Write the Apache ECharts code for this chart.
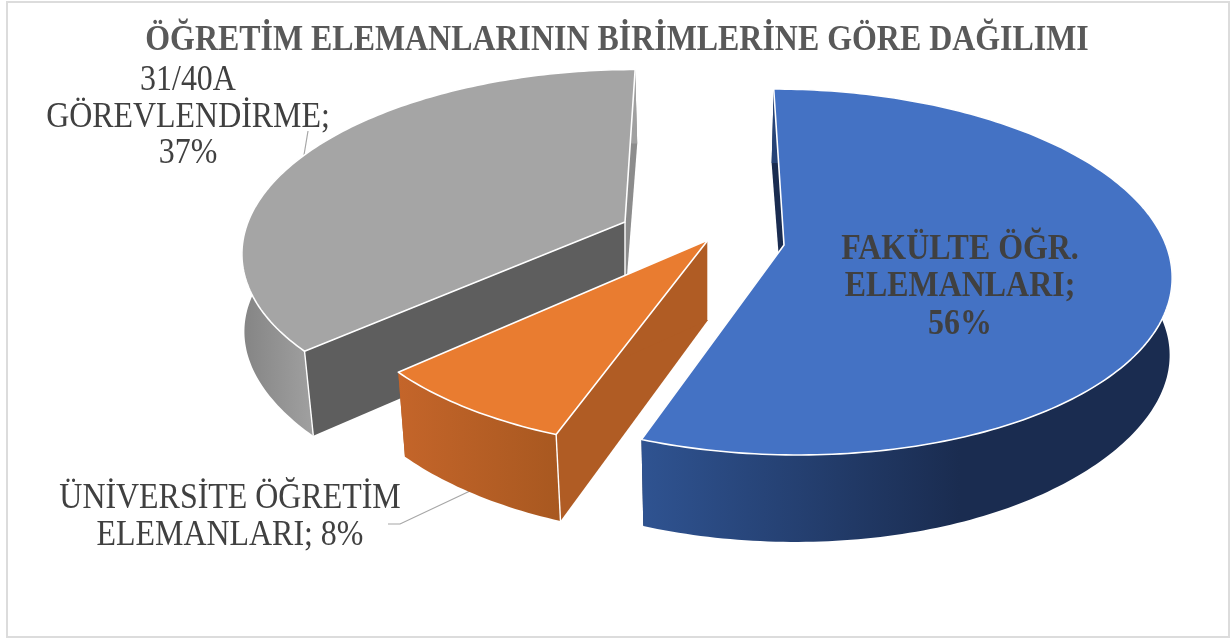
<!DOCTYPE html>
<html>
<head>
<meta charset="utf-8">
<style>html,body{margin:0;padding:0;background:#fff}#c{width:1232px;height:639px}</style>
<script src="https://cdn.jsdelivr.net/npm/echarts@6/dist/echarts.min.js"></script>
</head>
<body>
<div id="c"></div>
<script>
const chartTitle = 'ÖĞRETİM ELEMANLARININ BİRİMLERİNE GÖRE DAĞILIMI';
const categories = ['FAKÜLTE ÖĞR.\nELEMANLARI', 'ÜNİVERSİTE ÖĞRETİM\nELEMANLARI', '31/40A\nGÖREVLENDİRME'];
const separators = [';\n', '; ', ';\n'];
// Estimated shares: the printed labels (56%, 8%, 37%) are these values rounded
const values = [55.7, 7.7, 36.6];
const topColors = ['#4472c4', '#e97c30', '#a5a5a5'];

// Layout of the tilted, exploded pie
const VANISH_X = 704, PERSP = 0.1475, TILTS = [179, 179, 175], RADII = [382, 375, 377];
const HEIGHT = 80, HEIGHT_PERSP = 0.08;
const APEX = [[784, 245], [708, 240], [625, 222]];
const ORDER = [3, 2, 1];
const FRONT_CORNER = [false, true, true];
const outerFill = [
  [[0, '#2f5391'], [0.6, '#1a2c50'], [1, '#1a2c50']],
  [[0, '#c4652a'], [1, '#a85820']],
  [[0, '#848484'], [0.18, '#a0a0a0'], [1, '#a0a0a0']]
];
const startWallFill = ['#1a2c50', '#b05c24', '#5e5e5e'];
const endWallFill = ['#1a2c50', '#b05c24', '#8c8c8c'];
const labelPos = [[960, 287], [230, 517], [188, 117.5]];
const labelStyle = [
  {font: 'bold 35px "Liberation Serif"', fill: '#404040', lineHeight: 37.5},
  {font: '35px "Liberation Serif"', fill: '#404040', lineHeight: 37},
  {font: '35px "Liberation Serif"', fill: '#404040', lineHeight: 36.5}
];
const TEXT_SQUEEZE = 0.912;
const leaders = [null, [[388, 524], [400, 524], [470, 491]], [[308, 131], [304, 155]]];

const total = values.reduce((a, b) => a + b, 0);

function topPoint(i, ang) {
  const u = Math.sin(ang), v = -Math.cos(ang), w = 1 - PERSP * v;
  return [
    VANISH_X + (APEX[i][0] - VANISH_X) / w + RADII[i] * u / w,
    APEX[i][1] + TILTS[i] * v / w
  ];
}
function floorPoint(i, ang) {
  const p = topPoint(i, ang), u = Math.sin(ang), v = -Math.cos(ang);
  const scale = 0.97 + 0.026 * Math.pow(u, 4);
  return [VANISH_X + (p[0] - VANISH_X) * scale, p[1] + HEIGHT / (1 - HEIGHT_PERSP * v)];
}

function renderItem(params, api) {
  const i = params.dataIndex;
  let before = 0;
  for (let k = 0; k < i; k++) before += values[k];
  const a0 = before / total * Math.PI * 2;
  const a1 = (before + api.value(0)) / total * Math.PI * 2;
  const n = Math.max(4, Math.ceil((a1 - a0) / (Math.PI / 180)));
  const tops = [], floors = [];
  for (let s = 0; s <= n; s++) {
    const a = a0 + (a1 - a0) * s / n;
    tops.push(topPoint(i, a));
    floors.push(floorPoint(i, a));
  }
  const apexTop = APEX[i];
  const apexFloor = [apexTop[0], apexTop[1] + HEIGHT];
  const z = ORDER[i] * 10;
  const poly = (pts, fill, dz, stroked) => ({
    type: 'polygon', z2: z + dz, shape: {points: pts}, silent: true,
    style: Object.assign({fill: fill},
      stroked ? {stroke: '#ffffff', lineWidth: 1.6, lineJoin: 'round'} : {stroke: null})
  });
  const whiteLine = (pts, dz) => ({
    type: 'polyline', z2: z + dz, shape: {points: pts}, silent: true,
    style: {stroke: '#ffffff', lineWidth: 1.4, fill: null}
  });
  const children = [
    poly([apexTop, tops[0], floors[0], apexFloor], startWallFill[i], 0, false),
    poly([apexTop, tops[n], floors[n], apexFloor], endWallFill[i], 0, false),
    whiteLine([apexTop, apexFloor], 1),
    poly(tops.concat(floors.slice().reverse()),
      new echarts.graphic.LinearGradient(0, 0, 1, 0, outerFill[i].map(s => ({offset: s[0], color: s[1]}))), 2, false),
    poly([apexTop].concat(tops), topColors[i], 4, true)
  ];
  if (FRONT_CORNER[i]) children.push(whiteLine([tops[0], floors[0]], 3));
  if (leaders[i]) {
    children.push({
      type: 'polyline', z2: 5, shape: {points: leaders[i]}, silent: true,
      style: {stroke: '#a6a6a6', lineWidth: 1.2, fill: null}
    });
  }
  children.push({
    type: 'text', z2: 100, x: labelPos[i][0], y: labelPos[i][1], scaleX: TEXT_SQUEEZE, silent: true,
    style: Object.assign({
      text: categories[i] + separators[i] + Math.round(api.value(0)) + '%',
      align: 'center', verticalAlign: 'middle'
    }, labelStyle[i])
  });
  return {type: 'group', children: children};
}

const chart = echarts.init(document.getElementById('c'), null, {renderer: 'canvas'});
chart.setOption({
  animation: false,
  backgroundColor: '#ffffff',
  graphic: [{
    type: 'rect', z: -1, silent: true,
    shape: {x: 7, y: 2, width: 1222, height: 635},
    style: {fill: '#ffffff', stroke: '#dcdcdc', lineWidth: 2}
  }, {
    type: 'text', z: 10, silent: true, x: 617, y: 41, scaleX: TEXT_SQUEEZE,
    style: {
      text: chartTitle, font: 'bold 35px "Liberation Serif"', fill: '#595959',
      align: 'center', verticalAlign: 'middle'
    }
  }],
  series: [{
    type: 'custom', coordinateSystem: 'none', renderItem: renderItem,
    data: values.map(v => [v])
  }]
});
</script>
</body>
</html>
